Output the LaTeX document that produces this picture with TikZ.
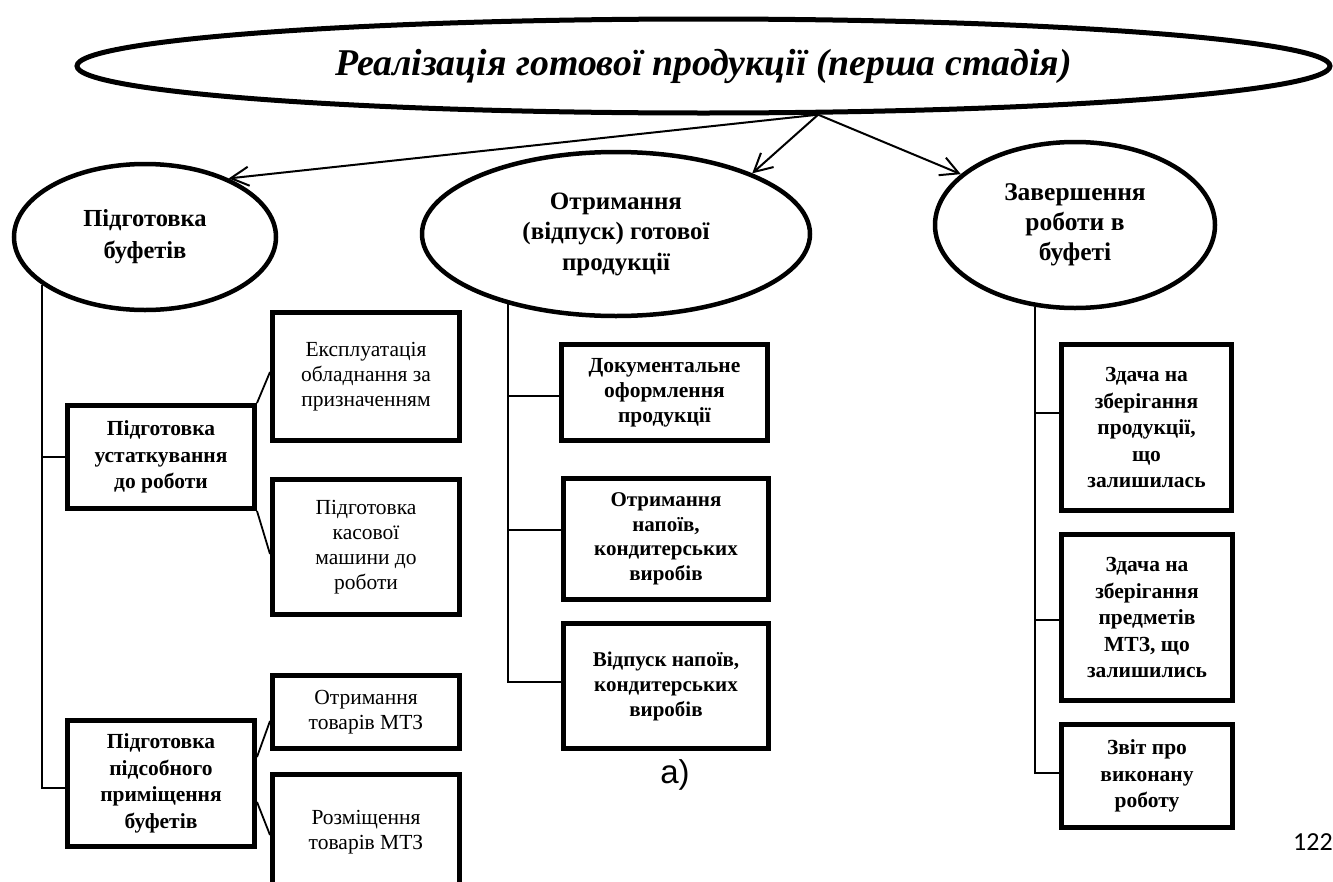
\documentclass[tikz,border=0pt]{standalone}
\usepackage{fontspec}
\setmainfont{Liberation Serif}
\newfontfamily\labelsans{Liberation Sans}
\newfontfamily\pagenumfont{Carlito}
\usetikzlibrary{shapes.geometric,arrows.meta}

\begin{document}
\begin{tikzpicture}[x=1pt,y=-1pt,
  oval/.style={draw, ellipse, line width=4.5pt, inner sep=0pt, align=center,
               font=\bfseries\fontsize{25.5}{30}\selectfont},
  box/.style={draw, rectangle, line width=5pt, inner sep=0pt, align=center},
  bbox/.style={box, font=\bfseries\fontsize{21.5}{26.5}\selectfont},
  pbox/.style={box, font=\fontsize{21.5}{25}\selectfont},
  conn/.style={line width=1.8pt},
  arr/.style={line width=2pt, -{Straight Barb[length=18pt,width=19pt]}}
]
\useasboundingbox (0,0) rectangle (1333,881);
\clip (0,0) rectangle (1333,881);

% main stage
\node[oval, line width=5pt, minimum width=1253pt, minimum height=94pt,
      font=\bfseries\itshape\fontsize{37.8}{40}\selectfont] (top) at (703.5,66)
  {Реалізація готової продукції (перша стадія)};

% three sub-stages
\node[oval, minimum width=262pt, minimum height=146pt,
      font=\bfseries\fontsize{24.5}{32}\selectfont] (Lell) at (145,237)
  {Підготовка\\буфетів};
\node[oval, minimum width=388pt, minimum height=164pt,
      font=\bfseries\fontsize{25}{30.5}\selectfont] (Mell) at (616,234)
  {Отримання\\(відпуск) готової\\продукції};
\node[oval, minimum width=280pt, minimum height=166pt] (Rell) at (1075,225)
  {Завершення\\роботи в\\буфеті};

% left branch
\node[bbox, minimum width=187pt, minimum height=103pt] (L1) at (161,457)
  {Підготовка\\устаткування\\до роботи};
\node[pbox, minimum width=187pt, minimum height=128pt] (L1a) at (366,376.5)
  {Експлуатація\\обладнання за\\призначенням};
\node[pbox, minimum width=187pt, minimum height=135pt] (L1b) at (366,547)
  {Підготовка\\касової\\машини до\\роботи};
\node[bbox, minimum width=187pt, minimum height=126pt] (L2) at (161,783.5)
  {Підготовка\\підсобного\\приміщення\\буфетів};
\node[pbox, minimum width=187pt, minimum height=73pt] (L2a) at (366,712)
  {Отримання\\товарів МТЗ};
\node[pbox, minimum width=187pt, minimum height=115pt] (L2b) at (366,832)
  {Розміщення\\товарів МТЗ};

% middle branch
\node[bbox, minimum width=206pt, minimum height=96pt,
      font=\bfseries\fontsize{21.5}{25}\selectfont] (M1) at (664.5,392.5)
  {Документальне\\оформлення\\продукції};
\node[bbox, minimum width=205pt, minimum height=121pt,
      font=\bfseries\fontsize{21}{24.5}\selectfont] (M2) at (666,539)
  {Отримання\\напоїв,\\кондитерських\\виробів};
\node[bbox, minimum width=205pt, minimum height=125pt,
      font=\bfseries\fontsize{21}{25}\selectfont] (M3) at (666,686)
  {Відпуск напоїв,\\кондитерських\\виробів};

% right branch
\node[bbox, minimum width=170pt, minimum height=166pt] (R1) at (1146.5,427.5)
  {Здача на\\зберігання\\продукції,\\що\\залишилась};
\node[bbox, minimum width=171pt, minimum height=166pt] (R2) at (1147,617.5)
  {Здача на\\зберігання\\предметів\\МТЗ, що\\залишились};
\node[bbox, minimum width=171pt, minimum height=103pt] (R3) at (1147,776)
  {Звіт про\\виконану\\роботу};

% captions
\node[font=\labelsans\fontsize{33}{36}\selectfont, anchor=base, inner sep=0pt] (cap) at (675,783) {а)};
\node[font=\pagenumfont\fontsize{26}{28}\selectfont, anchor=base west, inner sep=0pt] (pg) at (1293,850) {122};

% arrows from the main stage
\draw[arr] (top.-23.5) -- (Lell.35);
\draw[arr] (top.-23.5) -- (Mell.24);
\draw[arr] (top.-23.5) -- (Rell.156.4);

% trunks and branches
\draw[conn] (Lell.205) |- (L1.west);
\draw[conn] (Lell.205) |- ([yshift=-4.5pt]L2.west);
\draw[conn] (L1.north east) -- ([yshift=4.5pt]L1a.west);
\draw[conn] (L1.south east) -- ([yshift=-7pt]L1b.west);
\draw[conn] ([yshift=26.5pt]L2.east) -- ([yshift=-9pt]L2a.west);
\draw[conn] ([yshift=-18.5pt]L2.east) -- ([yshift=-3pt]L2b.west);

\draw[conn] (Mell.213) |- ([yshift=-3.5pt]M1.west);
\draw[conn] (Mell.213) |- ([yshift=9pt]M2.west);
\draw[conn] (Mell.213) |- ([yshift=4pt]M3.west);

\draw[conn] (Rell.244) |- ([yshift=14.5pt]R1.west);
\draw[conn] (Rell.244) |- ([yshift=-2.5pt]R2.west);
\draw[conn] (Rell.244) |- ([yshift=3pt]R3.west);
\end{tikzpicture}
\end{document}
